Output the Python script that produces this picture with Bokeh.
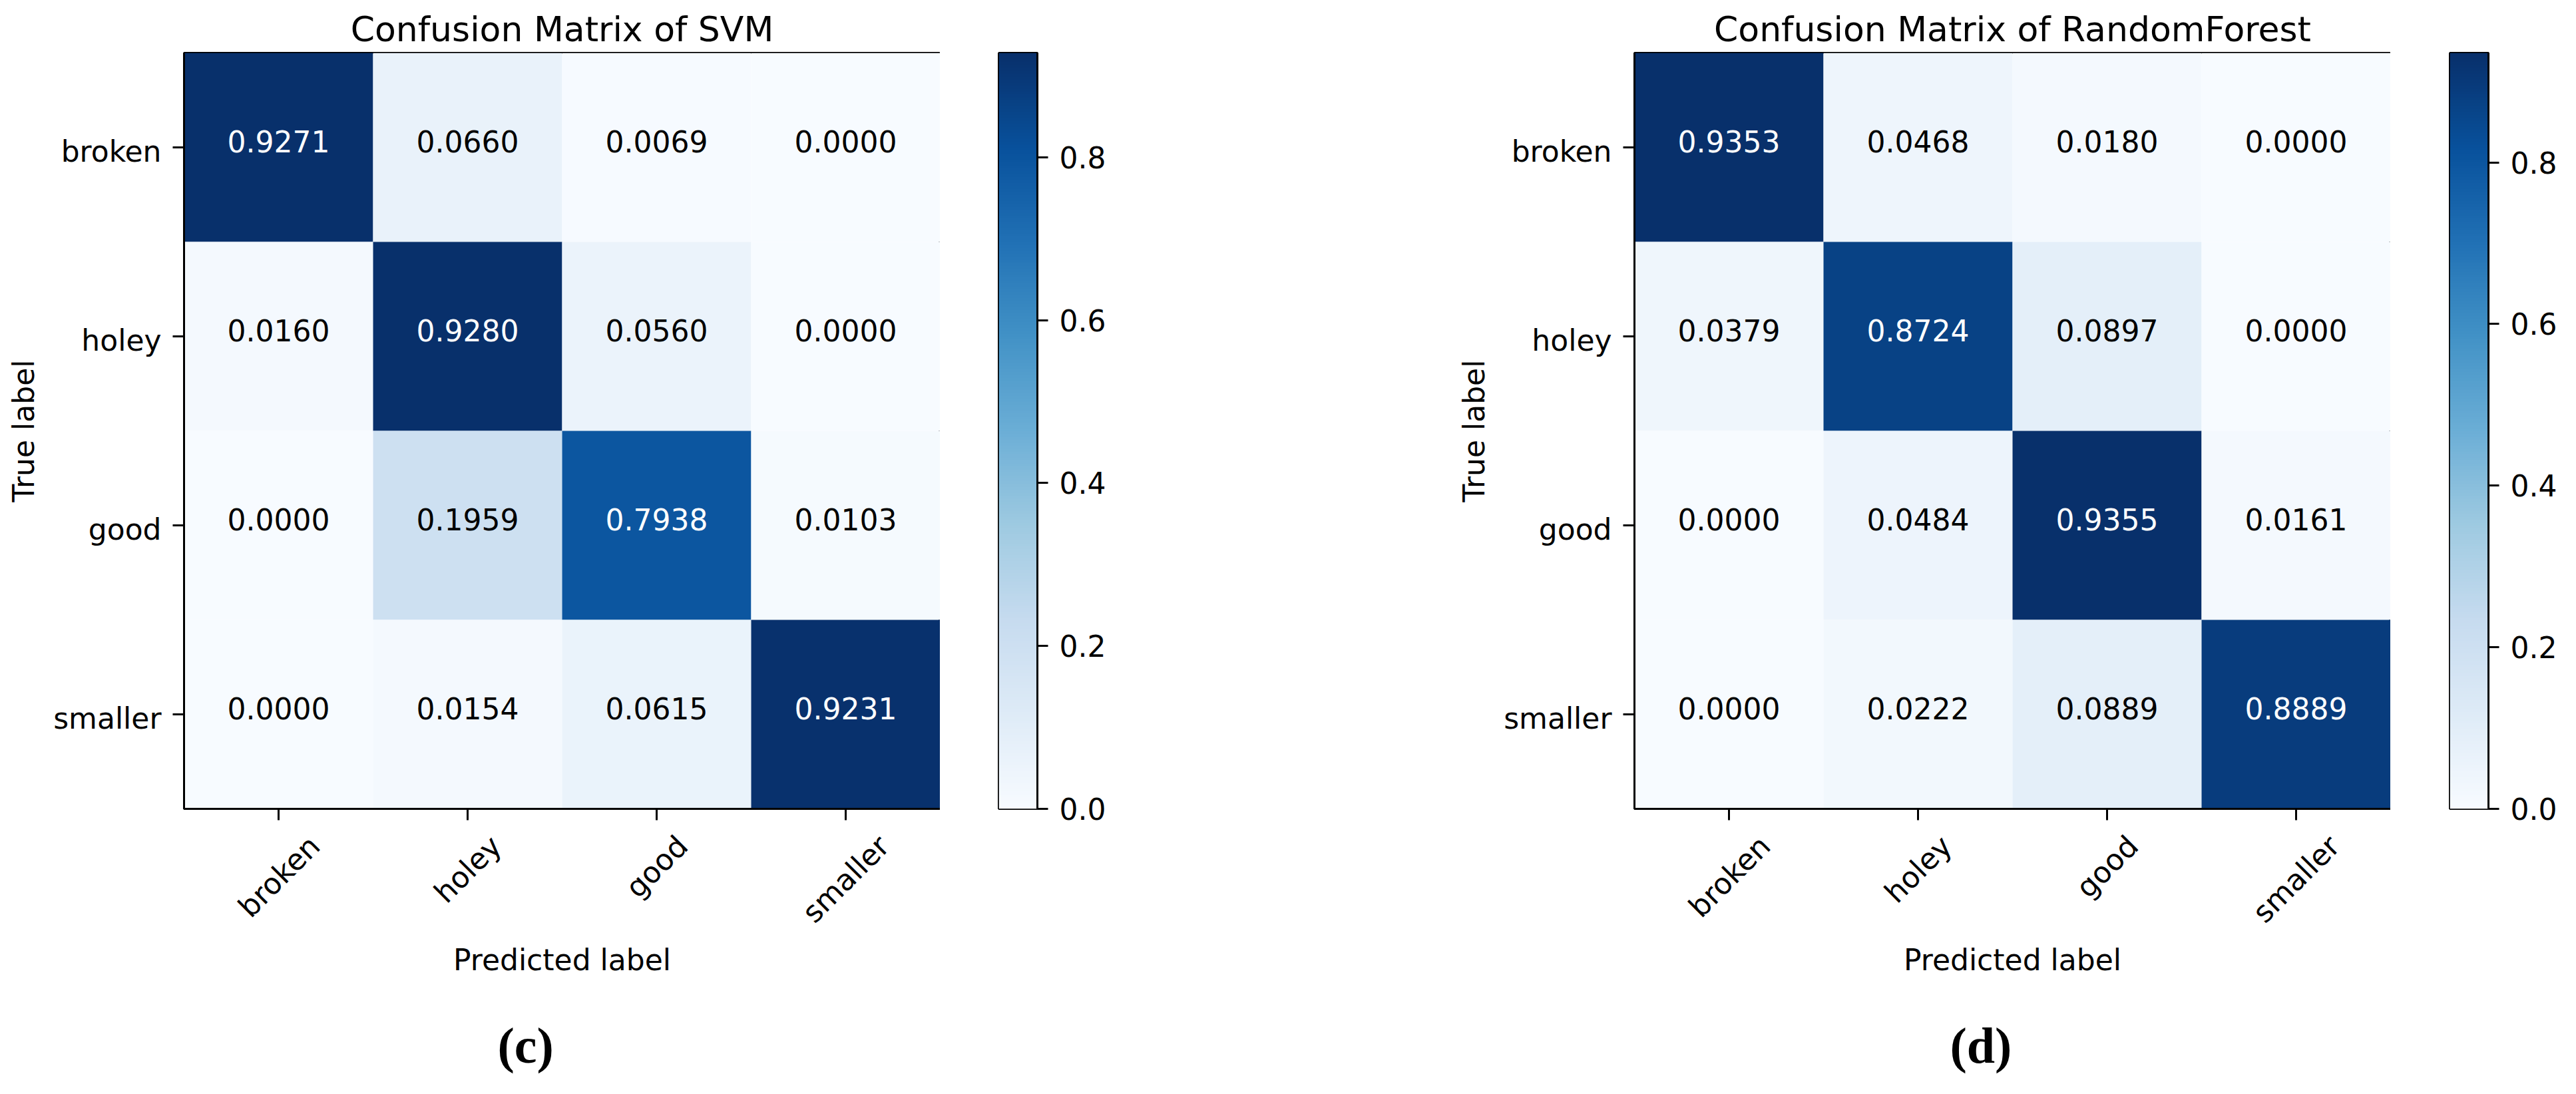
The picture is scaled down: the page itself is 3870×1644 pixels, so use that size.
import numpy as np
from bokeh.plotting import figure
from bokeh.models import (Range1d, FixedTicker, LinearAxis, LinearColorMapper,
                          ColumnDataSource, Title)
from bokeh.layouts import row
from bokeh.palettes import Blues256
from bokeh.embed import file_html
from bokeh.resources import INLINE

# ---------------- data ----------------
classes = ["broken", "holey", "good", "smaller"]

svm_broken = [0.9271, 0.0660, 0.0069, 0.0000]
svm_holey = [0.0160, 0.9280, 0.0560, 0.0000]
svm_good = [0.0000, 0.1959, 0.7938, 0.0103]
svm_smaller = [0.0000, 0.0154, 0.0615, 0.9231]

rf_broken = [0.9353, 0.0468, 0.0180, 0.0000]
rf_holey = [0.0379, 0.8724, 0.0897, 0.0000]
rf_good = [0.0000, 0.0484, 0.9355, 0.0161]
rf_smaller = [0.0000, 0.0222, 0.0889, 0.8889]

colorbar_ticks = [0.0, 0.2, 0.4, 0.6, 0.8]
colorbar_labels = ["0.0", "0.2", "0.4", "0.6", "0.8"]

titles = ["Confusion Matrix of SVM", "Confusion Matrix of RandomForest"]
captions = ["(c)", "(d)"]
x_title = "Predicted label"
y_title = "True label"

# ---------------- layout / style ----------------
FONT = "DejaVu Sans"
FS = "44px"
FRAME = 1136
TOP = 79
BOTTOM = 413
LINE_W = 3
TICK = 17
# shifts (cell units) that place tick labels like matplotlib does
x_label_shift = {"broken": 0.19, "holey": 0.15, "good": 0.137, "smaller": 0.202}
y_label_shift = 0.021


def style_axis(ax):
    ax.major_label_text_font = FONT
    ax.major_label_text_font_size = FS
    ax.major_label_text_color = "black"
    ax.major_label_standoff = 17
    ax.major_tick_out = TICK
    ax.major_tick_in = 0
    ax.minor_tick_out = TICK
    ax.minor_tick_in = 0
    ax.major_tick_line_color = None          # labels sit at shifted positions
    ax.minor_tick_line_width = LINE_W        # visible tick marks
    ax.minor_tick_line_color = "black"
    ax.axis_line_width = LINE_W
    ax.axis_line_color = "black"
    ax.axis_label_text_font = FONT
    ax.axis_label_text_font_size = FS
    ax.axis_label_text_font_style = "normal"
    ax.axis_label_text_color = "black"


def heatmap(rows, title, caption, left_border, cap_offset):
    n = len(classes)
    vmax = max(max(r) for r in rows)
    mapper = LinearColorMapper(palette=list(reversed(Blues256)), low=0.0, high=vmax)
    xs, ys, vals, txt, tcol = [], [], [], [], []
    for i, r in enumerate(rows):
        for j, v in enumerate(r):
            xs.append(j + 0.5)
            ys.append(i + 0.5)
            vals.append(v)
            txt.append(f"{v:.4f}")
            tcol.append("white" if v > vmax / 2 else "black")
    src = ColumnDataSource(dict(x=xs, y=ys, v=vals, t=txt, c=tcol))

    p = figure(output_backend="svg", toolbar_location=None, tools="",
               frame_width=FRAME, frame_height=FRAME,
               min_border_left=left_border, min_border_right=0,
               min_border_top=TOP, min_border_bottom=BOTTOM,
               x_range=Range1d(0, n), y_range=Range1d(n, 0),
               x_axis_location=None, y_axis_location=None)
    p.grid.visible = False
    p.background_fill_color = "white"
    p.border_fill_color = "white"
    p.outline_line_color = "black"
    p.outline_line_width = LINE_W
    p.outline_line_alpha = 1.0

    p.rect(x="x", y="y", width=1, height=1, source=src,
           fill_color={"field": "v", "transform": mapper}, line_color=None)
    p.text(x="x", y="y", text="t", source=src, text_color="c",
           text_align="center", text_baseline="middle", y_offset=-9,
           text_font={"value": FONT}, text_font_size={"value": FS})

    p.title.text = title
    p.title.align = "center"
    p.title.text_font = FONT
    p.title.text_font_size = "52px"
    p.title.text_font_style = "normal"
    p.title.text_color = "black"
    p.title.standoff = 12

    centers = [k + 0.5 for k in range(n)]

    ylab_pos = [c + y_label_shift for c in centers]
    yax = LinearAxis(ticker=FixedTicker(ticks=ylab_pos, minor_ticks=centers),
                     major_label_overrides={c: lab for c, lab in zip(ylab_pos, classes)})
    style_axis(yax)
    yax.axis_label = y_title
    yax.axis_label_standoff = 16
    p.add_layout(yax, "left")

    xlab_pos = [c + x_label_shift[lab] for c, lab in zip(centers, classes)]
    xax = LinearAxis(ticker=FixedTicker(ticks=xlab_pos, minor_ticks=centers),
                     major_label_overrides={c: lab for c, lab in zip(xlab_pos, classes)})
    style_axis(xax)
    xax.major_label_orientation = np.pi / 4
    xax.major_label_standoff = 31
    xax.axis_label = x_title
    xax.axis_label_standoff = 0
    p.add_layout(xax, "below")

    cap = Title(text=caption, align="left", offset=cap_offset,
                text_font="Liberation Serif", text_font_size="76px",
                text_font_style="bold", text_color="black",
                vertical_align="top", standoff=115)
    p.add_layout(cap, "below")
    return p, mapper, vmax


def colorbar(mapper, vmax, left_border, right_border):
    cb = figure(output_backend="svg", toolbar_location=None, tools="", title=None,
                frame_width=58, frame_height=FRAME,
                min_border_left=left_border, min_border_right=right_border,
                min_border_top=TOP, min_border_bottom=BOTTOM,
                x_range=Range1d(0, 1), y_range=Range1d(0, vmax),
                x_axis_location=None, y_axis_location=None)
    cb.grid.visible = False
    cb.border_fill_color = "white"
    cb.outline_line_color = "black"
    cb.outline_line_width = LINE_W
    grad = np.linspace(0.0, vmax, 512).reshape(-1, 1)
    cb.image(image=[grad], x=0, y=0, dw=1, dh=vmax, color_mapper=mapper)
    ax = LinearAxis(ticker=FixedTicker(ticks=colorbar_ticks, minor_ticks=[]),
                    major_label_overrides={c: lab for c, lab in zip(colorbar_ticks, colorbar_labels)})
    style_axis(ax)
    ax.major_tick_line_color = "black"
    ax.major_tick_line_width = LINE_W
    ax.major_tick_out = 16
    ax.minor_tick_out = 0
    cb.add_layout(ax, "right")
    return cb


svm_rows = [svm_broken, svm_holey, svm_good, svm_smaller]
rf_rows = [rf_broken, rf_holey, rf_good, rf_smaller]

p1, m1, v1 = heatmap(svm_rows, titles[0], captions[0], 276, 471)
c1 = colorbar(m1, v1, 88, 434)
p2, m2, v2 = heatmap(rf_rows, titles[1], captions[1], 463, 474)
c2 = colorbar(m2, v2, 89, 116)

layout = row(p1, c1, p2, c2, spacing=0)
open("out.html", "w").write(file_html(layout, INLINE))
